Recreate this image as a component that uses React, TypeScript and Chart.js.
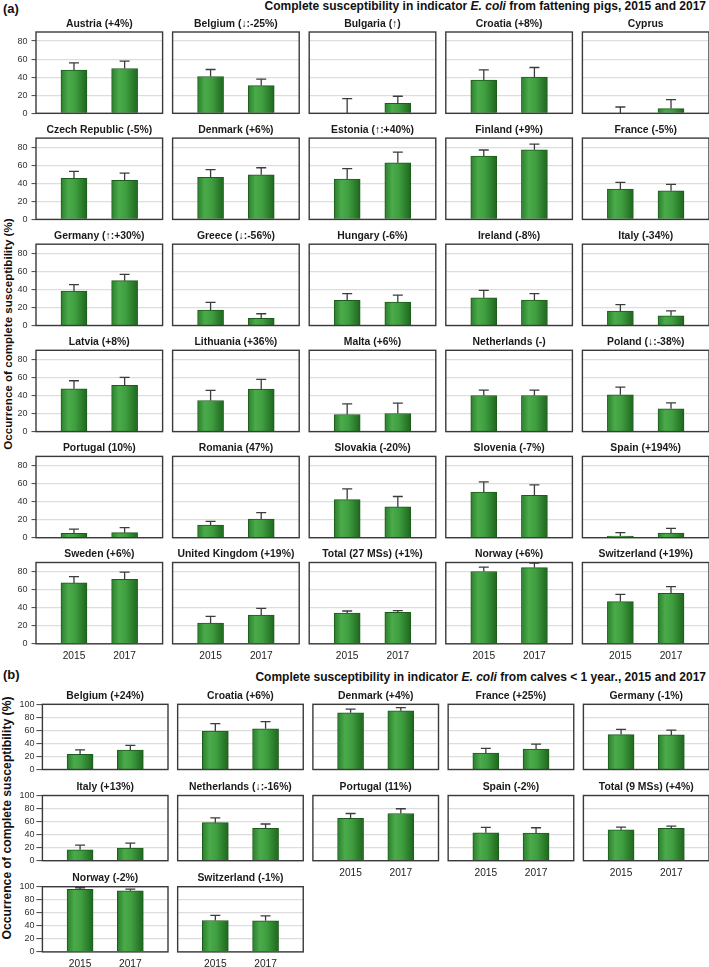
import React, { useEffect, useRef } from 'react';
import { Chart, registerables } from 'chart.js';

Chart.register(...registerables);

const FONT = '"Liberation Sans", Arial, Helvetica, sans-serif';
Chart.defaults.font.family = FONT;

// ---------------- DATA ----------------
const YEARS = ['2015', '2017'];
const A_Y_TICKS = [0, 20, 40, 60, 80];
const B_Y_TICKS = [0, 20, 40, 60, 80, 100];
const A_Y_MAX = 90;
const B_Y_MAX = 100;

const A_TITLES = [
  'Austria (+4%)', 'Belgium (↓:-25%)', 'Bulgaria (↑)', 'Croatia (+8%)', 'Cyprus',
  'Czech Republic (-5%)', 'Denmark (+6%)', 'Estonia (↑:+40%)', 'Finland (+9%)', 'France (-5%)',
  'Germany (↑:+30%)', 'Greece (↓:-56%)', 'Hungary (-6%)', 'Ireland (-8%)', 'Italy (-34%)',
  'Latvia (+8%)', 'Lithuania (+36%)', 'Malta (+6%)', 'Netherlands (-)', 'Poland (↓:-38%)',
  'Portugal (10%)', 'Romania (47%)', 'Slovakia (-20%)', 'Slovenia (-7%)', 'Spain (+194%)',
  'Sweden (+6%)', 'United Kingdom (+19%)', 'Total (27 MSs) (+1%)', 'Norway (+6%)', 'Switzerland (+19%)',
];
const A_2015 = [
  47.8, 40.7, 0, 36.7, 0,
  45.4, 46.5, 44.6, 70.1, 33.6,
  38.1, 17, 27.8, 30.7, 15.9,
  47.4, 34.4, 18.9, 40, 40.7,
  4.8, 14.1, 42.2, 50.4, 1.9,
  67.4, 23, 34.1, 80, 46.7,
];
const A_2015_UPPER = [
  55.9, 48.5, 16.3, 48.1, 7,
  53.1, 55, 56.1, 76.8, 41,
  45.2, 25.6, 35.2, 38.9, 23,
  56.3, 45.6, 30.7, 45.9, 49.3,
  9.6, 18.1, 54.1, 61.9, 5.6,
  74.4, 30.4, 36.3, 84.8, 54.8,
];
const A_2017 = [
  49.6, 30.7, 11.1, 40, 5.2,
  43.2, 49.4, 62.7, 77.1, 31.7,
  49.6, 7.8, 25.9, 28.1, 10.7,
  51.1, 47, 20, 40, 25.2,
  5.6, 20.7, 34.1, 47, 5.2,
  71.5, 31.9, 34.8, 84.4, 55.9,
];
const A_2017_UPPER = [
  57.8, 37.8, 18.9, 50.7, 15.2,
  51.3, 57.2, 74.5, 83.4, 38.7,
  56.7, 13, 33.7, 35.2, 16.3,
  60, 57.8, 31.5, 45.9, 31.9,
  11.1, 27.8, 45.6, 58.5, 10.4,
  79.3, 39.3, 36.7, 89.3, 63.3,
];

const B_TITLES = [
  'Belgium (+24%)', 'Croatia (+6%)', 'Denmark (+4%)', 'France (+25%)', 'Germany (-1%)',
  'Italy (+13%)', 'Netherlands (↓:-16%)', 'Portugal (11%)', 'Spain (-2%)', 'Total (9 MSs) (+4%)',
  'Norway (-2%)', 'Switzerland (-1%)',
];
const B_2015 = [23.4, 58.9, 87, 25, 53.6, 16.7, 58.3, 65.1, 42.7, 47.4, 95.9, 48.2];
const B_2015_UPPER = [30.2, 70.3, 92.7, 32.3, 61.5, 24, 65.6, 72.4, 51, 51.6, 98.4, 56];
const B_2017 = [29.7, 62.5, 90.1, 31.3, 53.1, 19.3, 49.5, 72.4, 42.2, 49.5, 93.8, 47.7];
const B_2017_UPPER = [37, 73.4, 94.8, 39, 60.4, 27.1, 56.3, 79.7, 50.5, 53.1, 96.4, 55.4];

// ---------------- LAYOUT ----------------
const A_COL_X0 = 36, A_COL_STEP = 136.6, A_W = 126.6;
const A_ROW_Y0 = 32, A_ROW_STEP = 106.1, A_H = 81.3;
const B_COL_X0 = 42.4, B_COL_STEP = 135.25, B_W = 125.6;
const B_ROW_Y0 = 704.3, B_ROW_STEP = 91.2, B_H = 65.2;

const TITLE_SIZE = 10.4, TITLE_LH = 1.2, TITLE_PT = 5, TITLE_PB = 2;
const TITLE_H = TITLE_SIZE * TITLE_LH + TITLE_PT + TITLE_PB;
const PAD_B = 20, PAD_R = 3;

const barFill = (c: any) => {
  const chart = c.chart;
  const xs = chart.scales && chart.scales.x;
  if (!xs || c.type !== 'data') return '#3a9a3a';
  const xv = c.parsed && c.parsed.x != null ? c.parsed.x : c.dataIndex;
  const cx = xs.getPixelForValue(xv);
  if (!Number.isFinite(cx)) return '#3a9a3a';
  const g = chart.ctx.createLinearGradient(cx - 13, 0, cx + 13, 0);
  g.addColorStop(0, '#2b7f2b');
  g.addColorStop(0.28, '#4bab4b');
  g.addColorStop(0.55, '#3f9e3f');
  g.addColorStop(1, '#1e661e');
  return g;
};

const framePlugin = {
  id: 'frame',
  afterDraw(chart: any) {
    const { ctx, chartArea: a } = chart;
    ctx.save();
    ctx.strokeStyle = '#3a3a3a';
    ctx.lineWidth = 1.4;
    ctx.strokeRect(a.left, a.top, a.right - a.left, a.bottom - a.top);
    ctx.restore();
  },
};

interface PanelProps {
  title: string;
  values: number[];
  uppers: number[];
  plotLeft: number;
  plotTop: number;
  plotW: number;
  plotH: number;
  yMax: number;
  yTicks: number[];
  showY: boolean;
  showX: boolean;
  padL: number;
  tickLen: number;
  tickPad: number;
}

function Panel(p: PanelProps) {
  const ref = useRef<HTMLCanvasElement>(null);
  const x0 = p.plotLeft - p.padL;
  const cl = Math.floor(x0);
  const exL = x0 - cl;
  const y0 = p.plotTop - TITLE_H;
  const ct = Math.floor(y0);
  const exT = y0 - ct;
  const cw = Math.ceil(exL + p.padL + p.plotW + PAD_R);
  const ch = Math.ceil(exT + TITLE_H + p.plotH + PAD_B);
  const exR = cw - (exL + p.padL + p.plotW);
  const exB = ch - (exT + TITLE_H + p.plotH + PAD_B);

  useEffect(() => {
    if (!ref.current) return;
    const errPlugin = {
      id: 'errbars',
      afterDatasetsDraw(chart: any) {
        const { ctx } = chart;
        const xs = chart.scales.x;
        const ys = chart.scales.y;
        ctx.save();
        ctx.strokeStyle = '#3c3c3c';
        ctx.lineWidth = 1.3;
        p.values.forEach((v, i) => {
          const px = xs.getPixelForValue(i);
          const yv = ys.getPixelForValue(v);
          const yu = ys.getPixelForValue(p.uppers[i]);
          ctx.beginPath();
          ctx.moveTo(px, yv);
          ctx.lineTo(px, yu);
          ctx.moveTo(px - 5, yu);
          ctx.lineTo(px + 5, yu);
          ctx.stroke();
        });
        ctx.restore();
      },
    };
    const chart = new Chart(ref.current, {
      type: 'bar',
      data: {
        datasets: [
          {
            data: p.values.map((v, i) => ({ x: i, y: v })),
            backgroundColor: barFill,
            borderColor: '#1c5c1c',
            borderWidth: 1,
            barThickness: 26,
          } as any,
        ],
      },
      options: {
        responsive: false,
        animation: false,
        devicePixelRatio: 1,
        layout: { padding: { left: exL, top: exT, right: exR, bottom: exB } },
        plugins: {
          legend: { display: false },
          tooltip: { enabled: false },
          title: {
            display: true,
            text: p.title,
            fullSize: false,
            align: 'center',
            color: '#1a1a1a',
            font: { family: FONT, size: TITLE_SIZE, weight: 'bold', lineHeight: TITLE_LH },
            padding: { top: TITLE_PT, bottom: TITLE_PB },
          },
        },
        scales: {
          x: {
            type: 'linear',
            min: -0.75,
            max: 1.75,
            offset: false,
            grid: { display: false, drawTicks: false, offset: false },
            border: { display: false },
            ticks: {
              display: p.showX,
              autoSkip: false,
              maxRotation: 0,
              padding: 6,
              color: '#222',
              font: { family: FONT, size: 10.2 },
              callback: (val: any) => YEARS[val] ?? '',
            },
            afterBuildTicks: (s: any) => {
              s.ticks = YEARS.map((_, i) => ({ value: i }));
            },
            afterFit: (s: any) => {
              s.height = PAD_B;
            },
          },
          y: {
            min: 0,
            max: p.yMax,
            grid: {
              color: '#dddddd',
              lineWidth: 1.2,
              drawTicks: p.showY,
              tickLength: p.tickLen,
              tickColor: '#444',
              tickWidth: 1,
            },
            border: { display: false },
            ticks: {
              display: p.showY,
              autoSkip: false,
              padding: p.tickPad,
              color: '#333',
              font: { family: FONT, size: 9 },
            },
            afterBuildTicks: (s: any) => {
              s.ticks = p.yTicks.map((t) => ({ value: t }));
            },
            afterFit: (s: any) => {
              s.width = p.padL;
            },
          },
        },
      } as any,
      plugins: [errPlugin, framePlugin],
    });
    return () => chart.destroy();
  }, []);

  return (
    <canvas
      ref={ref}
      width={cw}
      height={ch}
      style={{ position: 'absolute', left: cl, top: ct, width: cw, height: ch }}
    />
  );
}

const textBase: React.CSSProperties = {
  position: 'absolute',
  fontFamily: FONT,
  fontWeight: 'bold',
  color: '#111',
  whiteSpace: 'nowrap',
};

export default function App() {
  const panelsA = A_TITLES.map((t, i) => {
    const r = Math.floor(i / 5);
    const c = i % 5;
    return (
      <Panel
        key={'a' + i}
        title={t}
        values={[A_2015[i], A_2017[i]]}
        uppers={[A_2015_UPPER[i], A_2017_UPPER[i]]}
        plotLeft={A_COL_X0 + c * A_COL_STEP}
        plotTop={A_ROW_Y0 + r * A_ROW_STEP}
        plotW={A_W}
        plotH={A_H}
        yMax={A_Y_MAX}
        yTicks={A_Y_TICKS}
        showY={c === 0}
        showX={r === 5}
        padL={36}
        tickLen={4.5}
        tickPad={4}
      />
    );
  });
  const panelsB = B_TITLES.map((t, i) => {
    const r = Math.floor(i / 5);
    const c = i % 5;
    const showX = r === 2 || (r === 1 && c >= 2);
    return (
      <Panel
        key={'b' + i}
        title={t}
        values={[B_2015[i], B_2017[i]]}
        uppers={[B_2015_UPPER[i], B_2017_UPPER[i]]}
        plotLeft={B_COL_X0 + c * B_COL_STEP}
        plotTop={B_ROW_Y0 + r * B_ROW_STEP}
        plotW={B_W}
        plotH={B_H}
        yMax={B_Y_MAX}
        yTicks={B_Y_TICKS}
        showY={c === 0}
        showX={showX}
        padL={42}
        tickLen={6}
        tickPad={2}
      />
    );
  });

  return (
    <div
      style={{
        position: 'absolute',
        left: 0,
        top: 0,
        width: 709,
        height: 967,
        background: '#fff',
        overflow: 'hidden',
      }}
    >
      <div style={{ ...textBase, left: 3, top: 2, fontSize: 13, lineHeight: '14px' }}>(a)</div>
      <div style={{ ...textBase, right: 3, top: -1, fontSize: 12, lineHeight: '14px' }}>
        Complete susceptibility in indicator <span style={{ fontStyle: 'italic' }}>E. coli</span> from
        fattening pigs, 2015 and 2017
      </div>
      <div style={{ ...textBase, left: 3, top: 668, fontSize: 13, lineHeight: '14px' }}>(b)</div>
      <div style={{ ...textBase, right: 3, top: 670, fontSize: 12, lineHeight: '14px' }}>
        Complete susceptibility in indicator <span style={{ fontStyle: 'italic' }}>E. coli</span> from
        calves &lt; 1 year., 2015 and 2017
      </div>
      <div
        style={{
          ...textBase,
          left: 7,
          top: 334,
          fontSize: 11.6,
          lineHeight: '13px',
          transform: 'translate(-50%, -50%) rotate(-90deg)',
        }}
      >
        Occurrence of complete susceptibility (%)
      </div>
      <div
        style={{
          ...textBase,
          left: 7,
          top: 818,
          fontSize: 12.2,
          lineHeight: '13px',
          transform: 'translate(-50%, -50%) rotate(-90deg)',
        }}
      >
        Occurrence of complete susceptibility (%)
      </div>
      {panelsA}
      {panelsB}
    </div>
  );
}
